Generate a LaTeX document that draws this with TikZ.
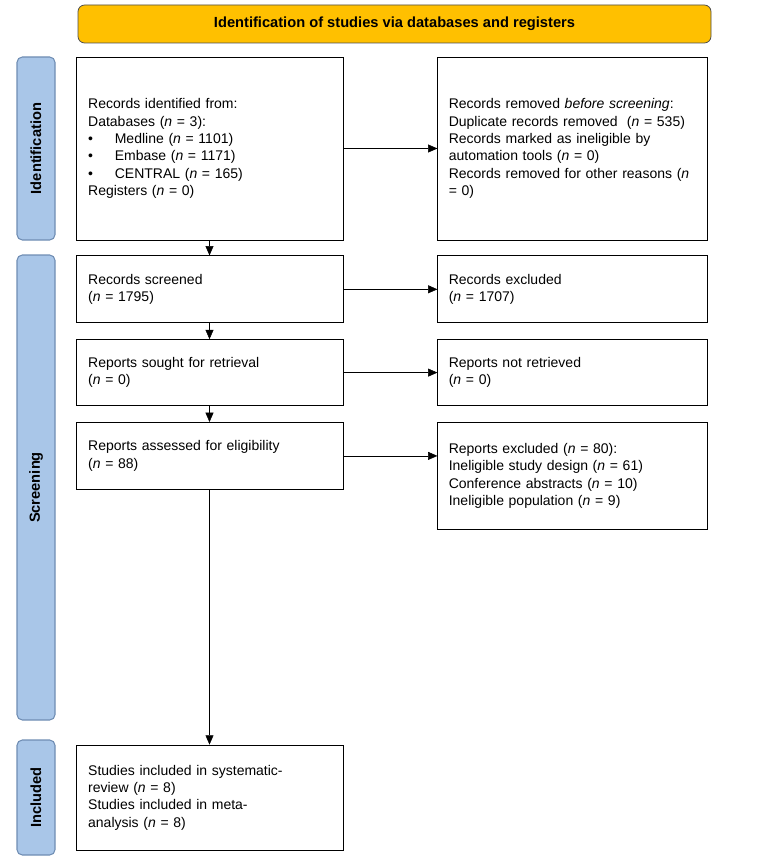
\documentclass[tikz,border=0pt]{standalone}
\usepackage{fontspec}
\setmainfont{Liberation Sans}
\usetikzlibrary{positioning,arrows.meta}
\definecolor{bannerfill}{HTML}{FFC000}
\definecolor{sidefill}{HTML}{A9C6E8}
\definecolor{sideline}{HTML}{6F8DB3}
\newcommand{\nn}{\textit{n}}
\newcommand{\bul}{\makebox[20pt][l]{\textbullet}}
\begin{document}
\begin{tikzpicture}
[
x=0.75pt, y=-0.75pt,
font=\fontsize{10.5}{13}\selectfont,
box/.style={rectangle, draw=black, semithick, inner xsep=9pt, text width=182pt, align=left, minimum width=200.25pt},
rbox/.style={box, minimum width=202.5pt, text width=186pt, inner xsep=8pt},
side/.style={rectangle, rounded corners=4pt, draw=sideline, thick, fill=sidefill, minimum width=28.5pt},
flow/.style={-{Triangle[length=7pt,width=6pt]}, thin}
]
\useasboundingbox (0,0) rectangle (767,859);
%Banner and side bars
\node[rectangle, rounded corners=5pt, draw=black!70, semithick, fill=bannerfill, minimum width=474.75pt, minimum height=28.5pt, font=\bfseries\fontsize{11}{13}\selectfont] (banner) at (394.5,24) {Identification of studies via databases and registers};
\node[side, minimum height=137.25pt] (s_ident) at (36,148.5) {};
\node[rotate=90, font=\bfseries\fontsize{11}{13}\selectfont] at (s_ident) {Identification};
\node[side, minimum height=348.75pt] (s_screen) at (36,487.5) {};
\node[rotate=90, font=\bfseries\fontsize{11}{13}\selectfont] at (s_screen) {Screening};
\node[side, minimum height=86.25pt] (s_incl) at (36,797.5) {};
\node[rotate=90, font=\bfseries\fontsize{11}{13}\selectfont] at (s_incl) {Included};

%Left column
\node[box, minimum height=137.25pt] (identified) at (209.5,148.5) {Records identified from:\\Databases (\nn{} = 3):\\\bul Medline (\nn{} = 1101)\\\bul Embase (\nn{} = 1171)\\\bul CENTRAL (\nn{} = 165)\\Registers (\nn{} = 0)};
\node[box, minimum height=50.25pt] (screened) [below=11.25pt of identified] {Records screened\\(\nn{} = 1795)};
\node[box, minimum height=49.5pt] (sought) [below=12pt of screened] {Reports sought for retrieval\\(\nn{} = 0)};
\node[box, minimum height=50.25pt] (assessed) [below=12pt of sought] {Reports assessed for eligibility\\(\nn{} = 88)};
\node[box, minimum height=78.75pt] (included) at (209.5,797.5) {Studies included in systematic-\\review (\nn{} = 8)\\Studies included in meta-\\analysis (\nn{} = 8)};

%Right column
\node[rbox, minimum height=137.25pt] (removed) [right=70.5pt of identified] {Records removed \textit{before screening}:\\Duplicate records removed\ \ (\nn{} = 535)\\Records marked as ineligible by\\automation tools (\nn{} = 0)\\Records removed for other reasons (\nn{}\\= 0)};
\node[rbox, minimum height=50.25pt] (excluded) [right=70.5pt of screened] {Records excluded\\(\nn{} = 1707)};
\node[rbox, minimum height=49.5pt] (notretr) [right=70.5pt of sought] {Reports not retrieved\\(\nn{} = 0)};
\node[rbox, minimum height=80.25pt, anchor=north west] (repexcl) at ([xshift=70.5pt]assessed.north east) {Reports excluded (\nn{} = 80):\\Ineligible study design (\nn{} = 61)\\Conference abstracts (\nn{} = 10)\\Ineligible population (\nn{} = 9)};

%Lines
\draw[flow] (identified) -- (screened);
\draw[flow] (screened) -- (sought);
\draw[flow] (sought) -- (assessed);
\draw[flow] (assessed) -- (included);
\draw[flow] (identified) -- (removed);
\draw[flow] (screened) -- (excluded);
\draw[flow] (sought) -- (notretr);
\draw[flow] (assessed.east) -- (assessed.east -| repexcl.west);
\end{tikzpicture}
\end{document}
